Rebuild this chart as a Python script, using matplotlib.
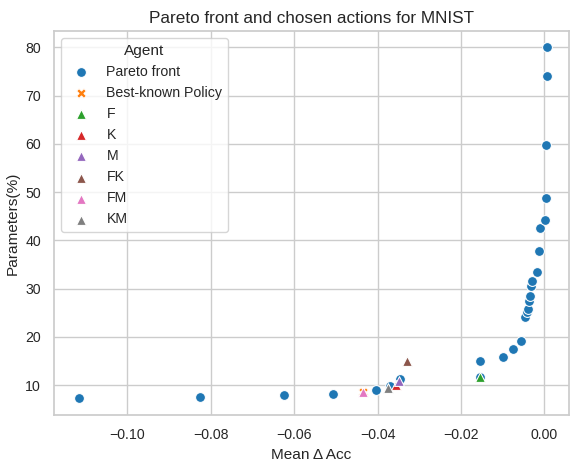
"""Pareto front vs. chosen agent actions on MNIST."""

import matplotlib

matplotlib.use("Agg")

import matplotlib.pyplot as plt  # noqa: E402
import seaborn as sns  # noqa: E402

# Pareto front points (mean delta accuracy, parameters %)
PARETO_ACC = [
    -0.1117, -0.0826, -0.0625, -0.0507, -0.0404, -0.0370, -0.0346,
    -0.0154, -0.0154, -0.0099, -0.0075, -0.0056, -0.0046, -0.0041,
    -0.0039, -0.0037, -0.0034, -0.0032, -0.0029, -0.0018, -0.0013,
    -0.0010, 0.0002, 0.0004, 0.0004, 0.0006, 0.0006,
]
PARETO_PARAMS = [
    7.4, 7.6, 7.9, 8.2, 9.0, 9.8, 11.2,
    11.7, 15.0, 15.8, 17.5, 19.1, 24.1, 25.2,
    25.8, 27.5, 28.5, 30.6, 31.6, 33.5, 37.7,
    42.6, 44.3, 48.7, 59.7, 74.0, 80.0,
]

# Best-known policy and the actions chosen by each agent
BEST_ACC = [-0.0436]
BEST_PARAMS = [8.5]

AGENTS = ["F", "K", "M", "FK", "FM", "KM"]
AGENT_ACC = [-0.0154, -0.0355, -0.0348, -0.0329, -0.0436, -0.0376]
AGENT_PARAMS = [11.7, 10.0, 10.8, 15.0, 8.5, 9.3]

AGENT_COLORS = ["#2ca02c", "#d62728", "#9467bd", "#8c564b", "#e377c2", "#7f7f7f"]

sns.set_theme(style="whitegrid")
plt.rcParams["font.family"] = ["Liberation Sans", "DejaVu Sans"]

fig = plt.figure(figsize=(5.7, 4.61), dpi=100)
ax = fig.add_axes([54 / 570, 46 / 461, 515 / 570, 384 / 461])

ax.scatter(PARETO_ACC, PARETO_PARAMS, s=50, c="#1f77b4",
           edgecolors="white", linewidths=0.75, label="Pareto front", zorder=3)
ax.scatter(BEST_ACC, BEST_PARAMS, s=50, c="#ff7f0e", marker="X",
           edgecolors="white", linewidths=0.75, label="Best-known Policy", zorder=3)
for name, x, y, color in zip(AGENTS, AGENT_ACC, AGENT_PARAMS, AGENT_COLORS):
    ax.scatter([x], [y], s=50, c=color, marker="^",
               edgecolors="white", linewidths=0.75, label=name, zorder=3)

ax.set_xlim(-0.1176, 0.0059)
ax.set_ylim(3.8, 83.4)
ax.set_xticks([-0.10, -0.08, -0.06, -0.04, -0.02, 0.00])
ax.set_yticks([10, 20, 30, 40, 50, 60, 70, 80])
ax.tick_params(labelsize=10.2)

ax.set_xlabel("Mean Δ Acc", fontsize=11.1)
ax.set_ylabel("Parameters(%)", fontsize=11.1)
ax.set_title("Pareto front and chosen actions for MNIST", fontsize=12.3, pad=6)

leg = ax.legend(title="Agent", loc="upper left", fontsize=10.2,
                title_fontsize=11.1, markerscale=1.0)

fig.savefig("out.png", dpi=100)
plt.close(fig)
